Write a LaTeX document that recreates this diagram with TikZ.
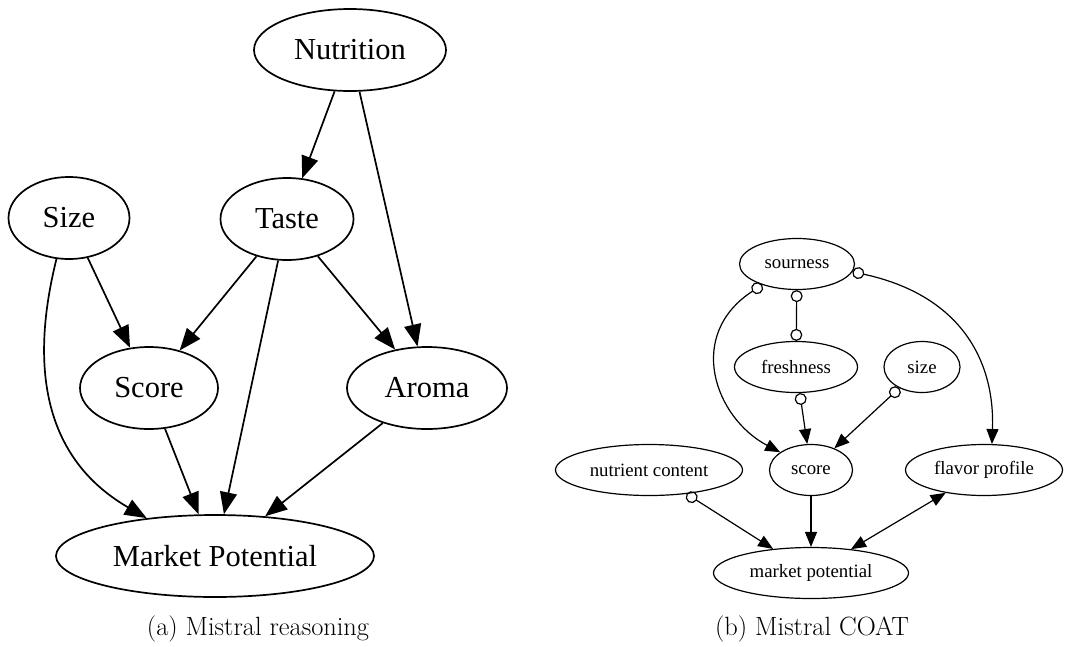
\documentclass[tikz,border=0pt]{standalone}
\usepackage{fontspec}
\newfontfamily\gvfont{Liberation Serif}
\usetikzlibrary{arrows.meta,shapes.geometric}
\begin{document}
\begin{tikzpicture}[x=1pt,y=-1pt,
  big/.style={draw, ellipse, line width=1.7pt, inner sep=0pt, minimum height=82pt,
    font=\gvfont\fontsize{30.5}{36}\selectfont},
  small/.style={draw, ellipse, line width=1.2pt, inner sep=0pt, minimum height=51pt,
    font=\gvfont\fontsize{18.8}{22}\selectfont},
  bigarr/.style={line width=1.7pt, -{Triangle[length=22pt,width=17pt]}},
  smallarr/.style={line width=1.2pt, -{Triangle[length=15pt,width=12pt]}},
  oarr/.style={line width=1.2pt, {Circle[open,length=12pt,width=12pt]}-{Triangle[length=15pt,width=12pt]}},
  ooarr/.style={line width=1.2pt, {Circle[open,length=12pt,width=12pt]}-{Circle[open,length=12pt,width=12pt]}},
  biarr/.style={line width=1.2pt, {Triangle[length=15pt,width=12pt]}-{Triangle[length=15pt,width=12pt]}},
  captext/.style={inner sep=0pt, font=\fontsize{26.4}{30}\selectfont}]
\useasboundingbox (0,0) rectangle (1068,646);

% ---------- (a) Mistral reasoning ----------
\node[big, minimum width=192pt] (nut) at (350,50) {Nutrition};
\node[big, minimum width=121pt] (size) at (69,218) {Size};
\node[big, minimum width=133pt] (taste) at (287,219) {Taste};
\node[big, minimum width=138pt] (score) at (149,388) {Score};
\node[big, minimum width=160pt] (aroma) at (427,388) {Aroma};
\node[big, minimum width=318pt] (mp) at (215,556) {Market Potential};

\draw[bigarr] (nut) -- (taste);
\draw[bigarr] (nut) -- (aroma);
\draw[bigarr] (size) -- (score);
\draw[bigarr] (size.253) .. controls (25,385) and (55,465) .. (mp.151);
\draw[bigarr] (taste) -- (score);
\draw[bigarr] (taste) -- (mp);
\draw[bigarr] (taste) -- (aroma);
\draw[bigarr] (score) -- (mp);
\draw[bigarr] (aroma) -- (mp);

\node[captext] (capa) at (258,629) {(a) Mistral reasoning};

% ---------- (b) Mistral COAT ----------
\node[small, minimum width=115pt] (so) at (797,264) {sourness};
\node[small, minimum width=123pt] (fr) at (796,367) {freshness};
\node[small, minimum width=76pt] (sz) at (922,367) {size};
\node[small, minimum width=187pt] (nc) at (649,470) {nutrient content};
\node[small, minimum width=83pt] (sc) at (811,470) {score};
\node[small, minimum width=157pt] (fp) at (984,470) {flavor profile};
\node[small, minimum width=195pt] (mp2) at (811,573) {market potential};

\draw[ooarr] (so) -- (fr);
\draw[oarr] (so.211) .. controls (685,335) and (715,418) .. (sc.150);
\draw[oarr] (so.-8) .. controls (960,295) and (995,360) .. (fp.73);
\draw[oarr] (fr) -- (sc);
\draw[oarr] (sz) -- (sc);
\draw[oarr] (nc) -- (mp2);
\draw[smallarr] (sc) -- (mp2);
\draw[biarr] (fp) -- (mp2);

\node[captext] (capb) at (812,629) {(b) Mistral COAT};
\end{tikzpicture}
\end{document}
